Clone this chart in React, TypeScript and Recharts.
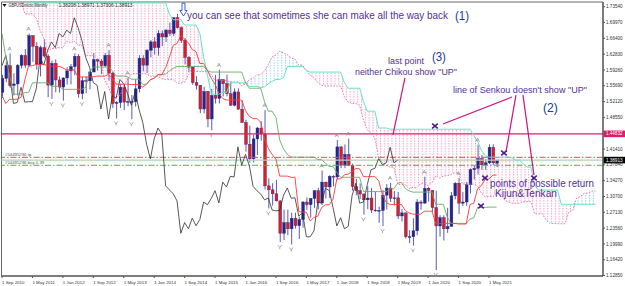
import React from "react";
import {
  Area,
  Bar,
  ComposedChart,
  Line,
  ReferenceArea,
  ReferenceDot,
  ReferenceLine,
  XAxis,
  YAxis,
} from "recharts";

// GBPUSDmicro, Monthly. bar 0 = Sep 2010, last bar = Jul 2021 (still open)
const opens = [
  1.542, 1.5735, 1.602, 1.5575,
  1.561, 1.603, 1.6255, 1.6035, 1.67, 1.646, 1.606, 1.643, 1.624, 1.5585, 1.6075, 1.57,
  1.554, 1.5745, 1.5905, 1.6, 1.6235, 1.539, 1.5685, 1.568, 1.588, 1.616, 1.6125, 1.602,
  1.6255, 1.5855, 1.517, 1.519, 1.5535, 1.52, 1.521, 1.521, 1.55, 1.619, 1.6035, 1.637,
  1.656, 1.643, 1.675, 1.667, 1.6825, 1.675, 1.7105, 1.688, 1.6595, 1.621, 1.599, 1.564,
  1.558, 1.5045, 1.544, 1.482, 1.535, 1.5285, 1.571, 1.5615, 1.539, 1.513, 1.543, 1.504,
  1.474, 1.425, 1.392, 1.437, 1.4615, 1.448, 1.331, 1.322, 1.313, 1.297, 1.224, 1.248,
  1.234, 1.258, 1.241, 1.255, 1.2945, 1.2885, 1.3025, 1.32, 1.2925, 1.3395, 1.3285, 1.3525,
  1.351, 1.419, 1.3775, 1.402, 1.377, 1.3295, 1.32, 1.3125, 1.2995, 1.3035, 1.2765, 1.2745,
  1.2755, 1.31, 1.326, 1.303, 1.304, 1.263, 1.27, 1.216, 1.216, 1.2295, 1.2945, 1.292,
  1.3255, 1.3205, 1.282, 1.2405, 1.259, 1.234, 1.2395, 1.3085, 1.337, 1.292, 1.2945, 1.3335,
  1.3675, 1.3705, 1.3925, 1.3785, 1.383, 1.418, 1.38208,
];
const highs = [
  1.5817, 1.6105, 1.6298, 1.585,
  1.606, 1.628, 1.64, 1.6747, 1.671, 1.655, 1.6475, 1.662, 1.628, 1.614, 1.6165, 1.578,
  1.576, 1.5985, 1.606, 1.63, 1.6285, 1.577, 1.578, 1.591, 1.631, 1.618, 1.6175, 1.631,
  1.638, 1.588, 1.522, 1.5605, 1.56, 1.575, 1.536, 1.5715, 1.626, 1.626, 1.64, 1.66,
  1.6665, 1.6825, 1.682, 1.6855, 1.6995, 1.711, 1.7192, 1.691, 1.6645, 1.624, 1.6, 1.5785,
  1.559, 1.555, 1.545, 1.55, 1.5815, 1.593, 1.572, 1.582, 1.566, 1.551, 1.551, 1.524,
  1.48, 1.467, 1.446, 1.464, 1.477, 1.502, 1.348, 1.337, 1.3445, 1.2985, 1.2775, 1.2775,
  1.2705, 1.2705, 1.2615, 1.2965, 1.305, 1.303, 1.321, 1.3265, 1.3655, 1.34, 1.355, 1.355,
  1.4345, 1.42, 1.4245, 1.4377, 1.381, 1.347, 1.3365, 1.314, 1.33, 1.326, 1.3175, 1.284,
  1.3215, 1.335, 1.338, 1.3195, 1.3175, 1.2785, 1.2705, 1.231, 1.258, 1.301, 1.2985, 1.3515,
  1.3285, 1.321, 1.32, 1.2645, 1.2645, 1.2815, 1.317, 1.3395, 1.3485, 1.3175, 1.3395, 1.3705,
  1.376, 1.424, 1.4005, 1.3915, 1.425, 1.425, 1.38971,
];
const lows = [
  1.5295, 1.565, 1.5525, 1.535,
  1.535, 1.596, 1.5975, 1.6, 1.611, 1.5935, 1.578, 1.62, 1.531, 1.527, 1.542, 1.5415,
  1.5235, 1.56, 1.56, 1.5805, 1.53, 1.5265, 1.54, 1.549, 1.5875, 1.591, 1.583, 1.599,
  1.5685, 1.507, 1.483, 1.507, 1.502, 1.5105, 1.4814, 1.51, 1.542, 1.5895, 1.5855, 1.621,
  1.627, 1.625, 1.646, 1.656, 1.669, 1.669, 1.686, 1.6535, 1.605, 1.5875, 1.559, 1.5485,
  1.495, 1.495, 1.4635, 1.4565, 1.517, 1.517, 1.533, 1.533, 1.511, 1.5105, 1.503, 1.4735,
  1.408, 1.3835, 1.3835, 1.4005, 1.433, 1.323, 1.28, 1.2865, 1.296, 1.204, 1.2085, 1.22,
  1.1985, 1.2345, 1.211, 1.2365, 1.277, 1.259, 1.281, 1.2775, 1.288, 1.3025, 1.3035, 1.33,
  1.3455, 1.371, 1.371, 1.376, 1.3205, 1.31, 1.301, 1.266, 1.2785, 1.2695, 1.2725, 1.2475,
  1.24, 1.2775, 1.2945, 1.2865, 1.256, 1.2505, 1.212, 1.2015, 1.196, 1.2195, 1.277, 1.2905,
  1.2955, 1.2725, 1.141, 1.2165, 1.2075, 1.225, 1.239, 1.3005, 1.2675, 1.2855, 1.2855, 1.314,
  1.345, 1.3565, 1.367, 1.367, 1.38, 1.3785, 1.37306,
];
const closes = [
  1.5735, 1.602, 1.5575, 1.561,
  1.603, 1.6255, 1.6035, 1.67, 1.646, 1.606, 1.643, 1.624, 1.5585, 1.6075, 1.57, 1.554,
  1.5745, 1.5905, 1.6, 1.6235, 1.539, 1.5685, 1.568, 1.588, 1.616, 1.6125, 1.602, 1.6255,
  1.5855, 1.517, 1.519, 1.5535, 1.52, 1.521, 1.521, 1.55, 1.619, 1.6035, 1.637, 1.656,
  1.643, 1.675, 1.667, 1.6825, 1.675, 1.7105, 1.688, 1.6595, 1.621, 1.599, 1.564, 1.558,
  1.5045, 1.544, 1.482, 1.535, 1.5285, 1.571, 1.5615, 1.539, 1.513, 1.543, 1.504, 1.474,
  1.425, 1.392, 1.437, 1.4615, 1.448, 1.331, 1.322, 1.313, 1.297, 1.224, 1.248, 1.234,
  1.258, 1.241, 1.255, 1.2945, 1.2885, 1.3025, 1.32, 1.2925, 1.3395, 1.3285, 1.3525, 1.351,
  1.419, 1.3775, 1.402, 1.377, 1.3295, 1.32, 1.3125, 1.2995, 1.3035, 1.2765, 1.2745, 1.2755,
  1.31, 1.326, 1.303, 1.304, 1.263, 1.27, 1.216, 1.216, 1.2295, 1.2945, 1.292, 1.3255,
  1.3205, 1.282, 1.2405, 1.259, 1.234, 1.2395, 1.3085, 1.337, 1.292, 1.2945, 1.3335, 1.3675,
  1.3705, 1.3925, 1.3785, 1.383, 1.418, 1.383, 1.38913,
];

// monthly highs / lows Jun 2006 .. Aug 2010, only the look-back for the ichimoku lines
const histHighs = [
  1.879, 1.875, 1.912, 1.91, 1.905, 1.97, 1.985,
  1.991, 1.979, 1.974, 2.013, 2.0, 2.008, 2.066, 2.048, 2.047, 2.06, 2.116, 2.065,
  2.0, 1.99, 2.04, 2.0, 1.985, 1.995, 2.016, 1.978, 1.87, 1.79, 1.623, 1.539,
  1.517, 1.498, 1.472, 1.506, 1.613, 1.666, 1.675, 1.704, 1.668, 1.675, 1.688, 1.665,
  1.646, 1.61, 1.533, 1.552, 1.535, 1.51, 1.571, 1.6,
];
const histLows = [
  1.809, 1.81, 1.85, 1.861, 1.85, 1.875, 1.945,
  1.919, 1.927, 1.918, 1.958, 1.965, 1.958, 2.0, 1.958, 1.99, 2.014, 2.029, 1.98,
  1.935, 1.938, 1.972, 1.955, 1.935, 1.935, 1.97, 1.801, 1.745, 1.527, 1.436, 1.435,
  1.372, 1.4, 1.379, 1.44, 1.475, 1.58, 1.6, 1.626, 1.58, 1.571, 1.629, 1.593,
  1.581, 1.515, 1.478, 1.502, 1.423, 1.432, 1.5, 1.538,
];

const dateTicks = [0, 8, 16, 24, 32, 40, 48, 56, 64, 72, 80, 88, 96, 104, 112, 120, 128];
const dateLabels = [
  "1 Sep 2010", "1 May 2011", "1 Jan 2012", "1 Sep 2012", "1 May 2013", "1 Jan 2014",
  "1 Sep 2014", "1 May 2015", "1 Jan 2016", "1 Sep 2016", "1 May 2017", "1 Jan 2018",
  "1 Sep 2018", "1 May 2019", "1 Jan 2020", "1 Sep 2020", "1 May 2021",
];
const priceTicks = [
  1.1285, 1.1642, 1.1999, 1.2356, 1.2713, 1.307, 1.3427, 1.3784, 1.4141,
  1.4855, 1.5212, 1.5569, 1.5926, 1.6283, 1.664, 1.6997, 1.7354,
];

// bars carrying a fractal arrow
const upFractals = [2, 7, 19, 28, 33, 57, 69, 84, 88, 91, 102, 111, 120, 125];
const downFractals = [13, 16, 21, 30, 34, 55, 70, 73, 76, 95, 100, 108, 114];

// horizontal levels on the chart
const lineLevel = 1.44832;
const tpLevel = 1.3954;
const bidLevel = 1.38913;
const buyLevel = 1.3774;

const TENKAN = 9;
const KIJUN = 26;
const SENKOU = 52;

const FONT = "'Liberation Sans', Arial, sans-serif";
const X_MIN = -0.13;
const X_MAX = 157.96;
const Y_MIN = 1.1275;
const Y_MAX = 1.746;
const PURPLE = "#55309a";
const NUMBLUE = "#22399a";
const MAGENTA = "#c71585";

const allH = [...histHighs, ...highs];
const allL = [...histLows, ...lows];
const LOOK = histHighs.length;

const mid = (end: number, len: number) => {
  let hi = -Infinity;
  let lo = Infinity;
  for (let k = Math.max(0, end - len + 1); k <= end; k++) {
    hi = Math.max(hi, allH[k]);
    lo = Math.min(lo, allL[k]);
  }
  return (hi + lo) / 2;
};

const rows: any[] = [];
for (let i = 0; i < 158; i++) {
  const row: any = { i };
  if (i < closes.length) {
    row.o = opens[i];
    row.h = highs[i];
    row.l = lows[i];
    row.c = closes[i];
    row.range = [lows[i], highs[i]];
    row.tenkan = mid(i + LOOK, TENKAN);
    row.kijun = mid(i + LOOK, KIJUN);
  }
  const src = i - KIJUN + LOOK;
  if (src >= KIJUN - 1 && src < allH.length) {
    row.spanA = (mid(src, TENKAN) + mid(src, KIJUN)) / 2;
    row.spanB = mid(src, SENKOU);
  }
  if (i + KIJUN < closes.length) row.chikou = closes[i + KIJUN];
  rows.push(row);
}
const bIsUp = (k: number) => rows[k] && rows[k].spanA != null && rows[k].spanB >= rows[k].spanA;
const bIsDown = (k: number) => rows[k] && rows[k].spanA != null && rows[k].spanA > rows[k].spanB;
rows.forEach((r, i) => {
  if (r.spanA == null) return;
  const band = [Math.min(r.spanA, r.spanB), Math.max(r.spanA, r.spanB)];
  if (bIsUp(i) || bIsUp(i - 1) || bIsUp(i + 1)) r.pink = band;
  if (bIsDown(i) || bIsDown(i - 1) || bIsDown(i + 1)) r.blue = band;
});

const notes = [
  { x: 48.62, y: 1.7167, text: "you can see that sometimes she can make all the way back", size: 10, color: PURPLE, w: 261 },
  { x: 119.05, y: 1.7155, text: "(1)", size: 12.5, color: NUMBLUE, w: 14 },
  { x: 101.45, y: 1.6128, text: "last point", size: 9, color: PURPLE, w: 36 },
  { x: 113.0, y: 1.6241, text: "(3)", size: 12.5, color: NUMBLUE, w: 14 },
  { x: 92.77, y: 1.5891, text: 'neither Chikou show "UP"', size: 9, color: PURPLE, w: 102 },
  { x: 118.53, y: 1.5474, text: 'line of Senkou doesn\'t show "UP"', size: 9, color: PURPLE, w: 134 },
  { x: 142.18, y: 1.5079, text: "(2)", size: 12.5, color: NUMBLUE, w: 15 },
  { x: 128.25, y: 1.3374, text: "points of possible return", size: 10, color: PURPLE, w: 104 },
  { x: 129.57, y: 1.3137, text: "Kijun&Tenkan", size: 10, color: PURPLE, w: 62 },
];
const pointers = [
  [{ x: 115.9, y: 1.4706 }, { x: 134.04, y: 1.5315 }],
  [{ x: 135.09, y: 1.5359 }, { x: 132.46, y: 1.4072 }],
  [{ x: 136.93, y: 1.5359 }, { x: 139.82, y: 1.3553 }],
  [{ x: 105.9, y: 1.5745 }, { x: 102.76, y: 1.4458 }],
];
const crosses = [
  { x: 113.8, y: 1.4661 },
  { x: 131.93, y: 1.4052 },
  { x: 126.94, y: 1.3487 },
  { x: 139.82, y: 1.3487 },
  { x: 125.89, y: 1.2855 },
];

const Candle = (props: any) => {
  const { x, y, width, height, payload } = props;
  if (!payload || payload.o == null || !isFinite(y)) return null;
  const { o, h, l, c } = payload;
  const span = h - l || 1e-9;
  const toY = (p: number) => y + ((h - p) / span) * height;
  const cx = x + width / 2;
  const top = toY(Math.max(o, c));
  const bot = toY(Math.min(o, c));
  return (
    <g>
      <line x1={cx} x2={cx} y1={y} y2={y + height} stroke="#4a4aa6" strokeWidth={0.9} />
      <rect
        x={x}
        y={top}
        width={width}
        height={Math.max(0.8, bot - top)}
        fill={c >= o ? "#24248c" : "#e41b1b"}
        stroke="#2a2a8a"
        strokeWidth={0.4}
      />
    </g>
  );
};

const DateTick = ({ x, y, payload }: any) => (
  <text x={x} y={y} dy={3.6} fontSize={4.4} fill="#333" fontFamily={FONT} textAnchor="start">
    {dateLabels[dateTicks.indexOf(payload.value)]}
  </text>
);

const PriceTick = ({ x, y, payload }: any) => (
  <text x={x} y={y} dy={1.6} fontSize={4.6} fill="#333" fontFamily={FONT} textAnchor="start">
    {Number(payload.value).toFixed(5)}
  </text>
);

const PriceTag = ({ viewBox, text, bg }: any) => {
  if (!viewBox) return null;
  const x = viewBox.x + viewBox.width + 0.5;
  return (
    <g>
      <rect x={x} y={viewBox.y - 3.3} width={21.5} height={6.6} fill={bg} />
      <text x={x + 2.4} y={viewBox.y} dy={1.6} fontSize={4.6} fill="#fff" fontFamily={FONT}>
        {text}
      </text>
    </g>
  );
};

const LevelNote = ({ viewBox, text }: any) => {
  if (!viewBox) return null;
  return (
    <text x={viewBox.x + 3.5} y={viewBox.y - 1} fontSize={4.3} fill="#555" fontFamily={FONT}>
      {text}
    </text>
  );
};

export default function App() {
  return (
    <div style={{ position: "absolute", left: 0, top: 0, background: "#fff" }}>
      <ComposedChart
        width={625}
        height={286}
        data={rows}
        margin={{ top: 2, right: 0, bottom: 0, left: 1.5 }}
      >
        <defs>
          <pattern id="pinkDots" width={3.8} height={2.6} patternUnits="userSpaceOnUse">
            <rect x={0} y={0} width={1.1} height={1.3} fill="#f39cc2" />
          </pattern>
          <pattern id="blueDots" width={3.8} height={2.6} patternUnits="userSpaceOnUse">
            <rect x={0} y={0} width={1.1} height={1.3} fill="#92cfea" />
          </pattern>
        </defs>
        <XAxis
          type="number"
          dataKey="i"
          domain={[X_MIN, X_MAX]}
          allowDataOverflow
          ticks={dateTicks}
          interval={0}
          tick={<DateTick />}
          tickSize={2}
          tickLine={{ stroke: "#555" }}
          axisLine={{ stroke: "#444" }}
          height={10}
        />
        <YAxis
          orientation="right"
          type="number"
          domain={[Y_MIN, Y_MAX]}
          allowDataOverflow
          ticks={priceTicks}
          interval={0}
          width={22}
          tick={<PriceTick />}
          tickSize={2}
          tickMargin={1}
          tickLine={{ stroke: "#555" }}
          axisLine={{ stroke: "#444" }}
        />
        <Area dataKey="pink" type="linear" stroke="none" fill="url(#pinkDots)" fillOpacity={1} isAnimationActive={false} />
        <Area dataKey="blue" type="linear" stroke="none" fill="url(#blueDots)" fillOpacity={1} isAnimationActive={false} />
        <ReferenceLine y={lineLevel} stroke="#e8176d" strokeWidth={1.1} label={<PriceTag text="1.44832" bg="#e8176d" />} />
        <ReferenceLine y={bidLevel} stroke="#c4c4c4" strokeWidth={1.2} label={<PriceTag text="1.38913" bg="#000" />} />
        <ReferenceLine y={tpLevel} stroke="#f24a4a" strokeDasharray="6 2 1.5 2" label={<LevelNote text="#54495236 tp" />} />
        <ReferenceLine y={buyLevel} stroke="#45b845" strokeDasharray="6 2 1.5 2" label={<LevelNote text="#54495236 buy 0.39" />} />
        <Line dataKey="spanA" stroke="#ee6aa8" strokeWidth={0.9} strokeDasharray="1.6 1.4" dot={false} isAnimationActive={false} />
        <Line dataKey="spanB" stroke="#62e6c4" strokeWidth={1} dot={false} isAnimationActive={false} />
        <Bar dataKey="range" barSize={2.8} shape={<Candle />} isAnimationActive={false} />
        <Line dataKey="chikou" stroke="#2e2e2e" strokeWidth={0.8} dot={false} isAnimationActive={false} />
        <Line dataKey="kijun" stroke="#6aaa6a" strokeWidth={0.9} dot={false} isAnimationActive={false} />
        <Line dataKey="tenkan" stroke="#ff3a3a" strokeWidth={0.9} dot={false} isAnimationActive={false} />
        {upFractals.map((k) => (
          <ReferenceDot
            key={"u" + k}
            x={k}
            y={highs[k]}
            r={0}
            ifOverflow="visible"
            shape={(p: any) => (
              <path
                d={`M${p.cx - 1.8},${p.cy - 3} L${p.cx},${p.cy - 6.5} L${p.cx + 1.8},${p.cy - 3} M${p.cx - 0.9},${p.cy - 4.3} L${p.cx + 0.9},${p.cy - 4.3}`}
                stroke="#8c8c8c"
                strokeWidth={0.7}
                fill="none"
              />
            )}
          />
        ))}
        {downFractals.map((k) => (
          <ReferenceDot
            key={"d" + k}
            x={k}
            y={lows[k]}
            r={0}
            ifOverflow="visible"
            shape={(p: any) => (
              <path
                d={`M${p.cx - 1.8},${p.cy + 3} L${p.cx},${p.cy + 5.5} L${p.cx + 1.8},${p.cy + 3} M${p.cx},${p.cy + 5.5} L${p.cx},${p.cy + 7}`}
                stroke="#8c8c8c"
                strokeWidth={0.7}
                fill="none"
              />
            )}
          />
        ))}
        {pointers.map((seg, k) => (
          <ReferenceLine key={"p" + k} segment={seg} stroke={MAGENTA} strokeWidth={1.2} ifOverflow="visible" />
        ))}
        {crosses.map((c, k) => (
          <ReferenceDot
            key={"x" + k}
            x={c.x}
            y={c.y}
            r={0}
            ifOverflow="visible"
            shape={(p: any) => (
              <path
                d={`M${p.cx - 2.8},${p.cy - 2.4} L${p.cx + 2.8},${p.cy + 2.4} M${p.cx - 2.8},${p.cy + 2.4} L${p.cx + 2.8},${p.cy - 2.4}`}
                stroke="#4a1d8c"
                strokeWidth={1.6}
              />
            )}
          />
        ))}
        <ReferenceDot
          x={47.7}
          y={1.7291}
          r={0}
          ifOverflow="visible"
          shape={(p: any) => (
            <path
              d={`M${p.cx - 1.5},${p.cy - 6.3} L${p.cx + 1.5},${p.cy - 6.3} L${p.cx + 1.5},${p.cy + 1} L${p.cx + 3.6},${p.cy + 1} L${p.cx},${p.cy + 6.5} L${p.cx - 3.6},${p.cy + 1} L${p.cx - 1.5},${p.cy + 1} Z`}
              stroke="#2a4ccc"
              strokeWidth={0.9}
              fill="#fff"
            />
          )}
        />
        {notes.map((n) => (
          <ReferenceDot
            key={n.text}
            x={n.x}
            y={n.y}
            r={0}
            ifOverflow="visible"
            shape={(p: any) => (
              <text
                x={p.cx}
                y={p.cy}
                dy={n.size * 0.36}
                fontSize={n.size}
                fill={n.color}
                fontFamily={FONT}
                textLength={n.w}
                lengthAdjust="spacingAndGlyphs"
              >
                {n.text}
              </text>
            )}
          />
        ))}
        <ReferenceDot
          x={0}
          y={Y_MAX}
          r={0}
          ifOverflow="visible"
          shape={(p: any) => (
            <g>
              <path d={`M${p.cx + 0.5},${p.cy + 2} L${p.cx + 4.5},${p.cy + 2} L${p.cx + 2.5},${p.cy + 5} Z`} fill="#111" />
              <text x={p.cx + 6.5} y={p.cy + 5.3} fontSize={4.6} fill="#222" fontFamily={FONT} textLength={39} lengthAdjust="spacingAndGlyphs">
                GBPUSDmicro,Monthly
              </text>
              <text x={p.cx + 56.5} y={p.cy + 5.3} fontSize={4.6} fill="#222" fontFamily={FONT} textLength={74} lengthAdjust="spacingAndGlyphs">
                1.38208 1.38971 1.37306 1.38913
              </text>
            </g>
          )}
        />
        <ReferenceArea x1={X_MIN} x2={X_MAX} y1={Y_MIN} y2={Y_MAX} fill="none" stroke="#444" strokeWidth={0.8} ifOverflow="visible" />
      </ComposedChart>
    </div>
  );
}
